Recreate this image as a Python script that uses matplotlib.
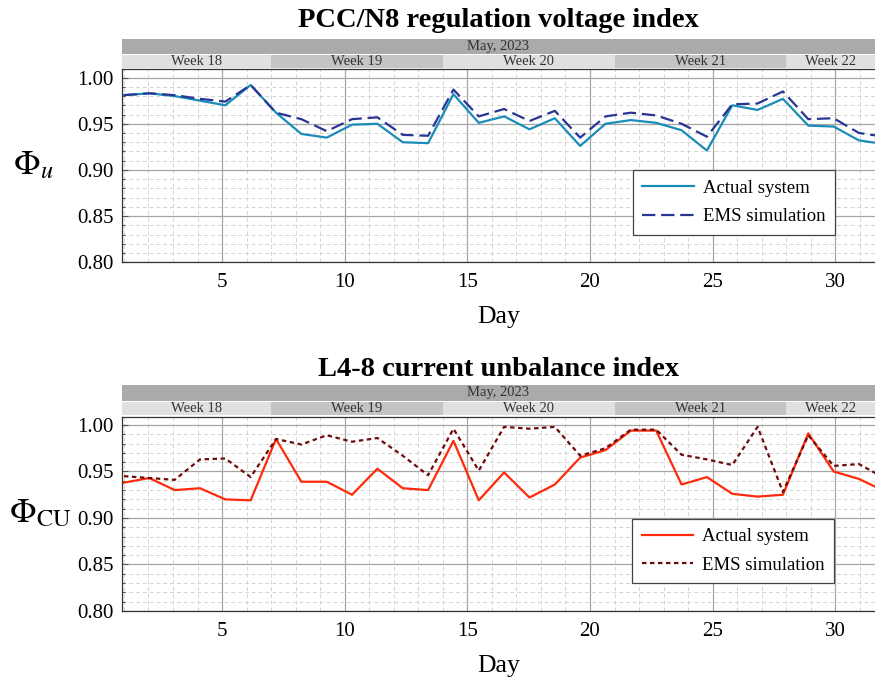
import numpy as np
import matplotlib
matplotlib.use("Agg")
import matplotlib.pyplot as plt
from matplotlib.ticker import MultipleLocator
from matplotlib.transforms import blended_transform_factory

plt.rcParams["font.family"] = ["Liberation Serif", "DejaVu Serif"]
plt.rcParams["mathtext.fontset"] = "stix"

# daily samples over May 2023
days = np.linspace(1, 32, 31)

volt_actual = [0.981, 0.983, 0.980, 0.975, 0.970, 0.992, 0.962, 0.939, 0.935, 0.949,
               0.950, 0.930, 0.929, 0.982, 0.951, 0.958, 0.944, 0.956, 0.926, 0.950,
               0.954, 0.951, 0.943, 0.921, 0.970, 0.965, 0.977, 0.948, 0.947, 0.932, 0.928]
volt_ems = [0.981, 0.983, 0.981, 0.977, 0.974, 0.992, 0.962, 0.955, 0.942, 0.955,
            0.957, 0.938, 0.937, 0.987, 0.958, 0.966, 0.953, 0.964, 0.935, 0.958,
            0.962, 0.959, 0.950, 0.936, 0.971, 0.972, 0.985, 0.955, 0.956, 0.940, 0.936]

cu_actual = [0.938, 0.943, 0.930, 0.932, 0.920, 0.919, 0.985, 0.939, 0.939, 0.925,
             0.953, 0.932, 0.930, 0.983, 0.919, 0.949, 0.922, 0.936, 0.965, 0.973,
             0.994, 0.994, 0.936, 0.944, 0.926, 0.923, 0.925, 0.991, 0.950, 0.942, 0.929]
cu_ems = [0.945, 0.943, 0.941, 0.963, 0.964, 0.944, 0.985, 0.979, 0.989, 0.982,
          0.986, 0.967, 0.946, 0.996, 0.951, 0.998, 0.996, 0.998, 0.967, 0.975,
          0.995, 0.995, 0.968, 0.963, 0.957, 0.998, 0.928, 0.989, 0.956, 0.958, 0.943]

week_labels = ["Week 18", "Week 19", "Week 20", "Week 21", "Week 22"]
week_edges = [0.92, 7, 14, 21, 28, 31.62]
month_label = "May, 2023"

XLIM = (0.92, 31.62)
YLIM = (0.80, 1.009)

fig = plt.figure(figsize=(8.75, 6.8), dpi=100)
ax1 = fig.add_axes([0.1394, 0.6143, 0.8606, 0.2838])
ax2 = fig.add_axes([0.1394, 0.1015, 0.8606, 0.2858])


def style_axes(ax, title, ylabel, label_x, title_y):
    ax.set_xlim(*XLIM)
    ax.set_ylim(*YLIM)
    ax.xaxis.set_major_locator(MultipleLocator(5))
    ax.xaxis.set_minor_locator(MultipleLocator(1))
    ax.yaxis.set_major_locator(MultipleLocator(0.05))
    ax.yaxis.set_minor_locator(MultipleLocator(0.01))
    ax.yaxis.set_major_formatter(matplotlib.ticker.FormatStrFormatter("%.2f"))
    ax.grid(which="major", color="#a6a6a6", lw=0.9, ls="-")
    ax.grid(which="minor", color="#d4d4d4", lw=0.7, ls=(0, (4, 3)))
    ax.set_axisbelow(True)
    ax.tick_params(which="both", direction="in", labelsize=15, length=4, width=0.8,
                   color="#555555", pad=6)
    ax.tick_params(which="minor", length=2)
    ax.tick_params(axis="x", which="both", length=0, pad=8)
    for s in ["left", "bottom", "top"]:
        ax.spines[s].set_color("#333333")
        ax.spines[s].set_linewidth(0.9)
    ax.spines["right"].set_visible(False)

    ax.set_xlabel("Day", fontsize=18.5, labelpad=10)
    ax.set_ylabel(ylabel, fontsize=25, rotation=0, ha="center", va="center")
    ax.yaxis.set_label_coords(label_x, 0.5)
    ax.text(0.5, title_y, title, transform=ax.transAxes, ha="center", va="center",
            fontsize=20.5, fontweight="bold")


def calendar_bands(ax, week_lo, week_hi, month_lo, month_hi):
    trans = blended_transform_factory(ax.transData, ax.transAxes)
    x0, x1 = ax.get_xlim()
    ax.add_patch(plt.Rectangle((x0, month_lo), x1 - x0, month_hi - month_lo,
                               transform=trans, clip_on=False, color="#aaaaaa", lw=0))
    ax.text((x0 + x1) / 2, (month_lo + month_hi) / 2, month_label, transform=trans,
            ha="center", va="center", fontsize=10.5, color="#333333")
    for i, lab in enumerate(week_labels):
        a, b = week_edges[i], week_edges[i + 1]
        col = "#e0e0e0" if i % 2 == 0 else "#c4c4c4"
        ax.add_patch(plt.Rectangle((a, week_lo), b - a, week_hi - week_lo,
                                   transform=trans, clip_on=False, color=col, lw=0))
        ax.text((a + b) / 2, (week_lo + week_hi) / 2, lab, transform=trans,
                ha="center", va="center", fontsize=10.5, color="#333333")


def add_legend(ax, anchor):
    leg = ax.legend(loc="lower right", bbox_to_anchor=anchor, borderaxespad=0,
                    fontsize=13.5, fancybox=False, edgecolor="#444444", framealpha=1,
                    handlelength=2.75, handletextpad=0.5, borderpad=0.5,
                    labelspacing=0.6)
    leg.get_frame().set_linewidth(0.9)


# -------------------------
# PCC/N8 voltage index
# -------------------------
ax1.plot(days, volt_actual, color="#1a8cb8", lw=1.6, label="Actual system")
ax1.plot(days, volt_ems, color="#283593", lw=1.6, ls=(0, (6, 2.6)), label="EMS simulation")
style_axes(ax1, "PCC/N8 regulation voltage index", r"$\Phi_u$", -0.118, 1.255)
calendar_bands(ax1, 1.008, 1.074, 1.079, 1.155)
add_legend(ax1, (0.9473, 0.143))

# -------------------------
# L4-8 current unbalance index
# -------------------------
ax2.plot(days, cu_actual, color="#ff2a0a", lw=1.6, label="Actual system")
ax2.plot(days, cu_ems, color="#6e0b0b", lw=1.6, ls=(0, (2, 1.6)), label="EMS simulation")
style_axes(ax2, "L4-8 current unbalance index", r"$\Phi_{\rm CU}$", -0.109, 1.245)
calendar_bands(ax2, 1.009, 1.077, 1.082, 1.163)
add_legend(ax2, (0.9462, 0.144))

plt.savefig("out.png", dpi=100)
plt.close()
